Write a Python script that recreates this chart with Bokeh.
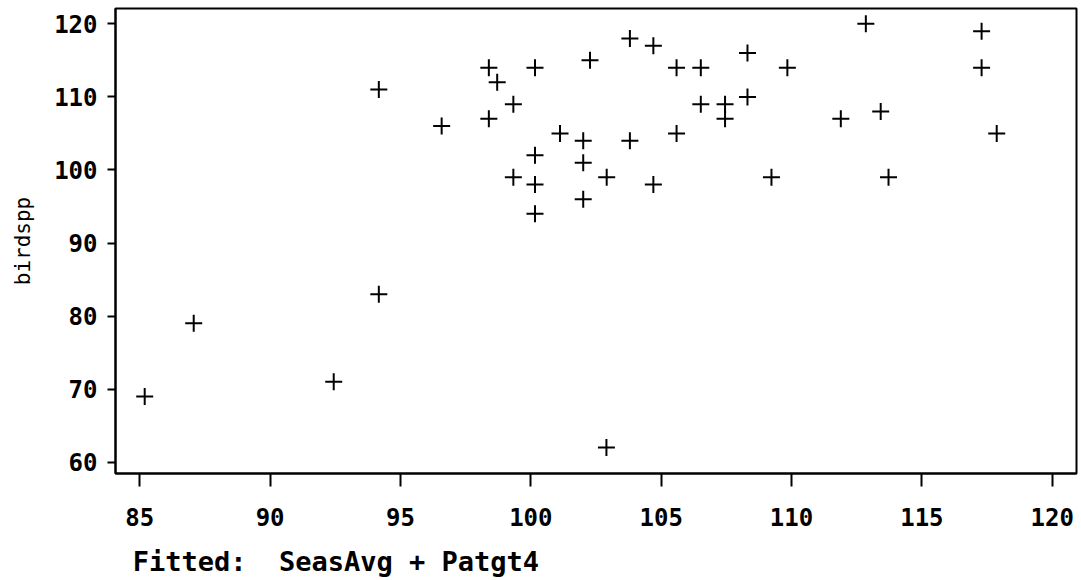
from bokeh.plotting import figure
from bokeh.models import ColumnDataSource, FixedTicker, Range1d
from bokeh.embed import file_html
from bokeh.resources import INLINE

# Fitted values (SeasAvg + Patgt4) against observed bird species counts
fitted = [85.19, 87.07, 92.44, 94.17, 94.17, 96.58, 98.39, 98.39, 98.71, 99.33,
          99.33, 100.16, 100.16, 100.16, 100.16, 101.12, 102.01, 102.01, 102.01, 102.27,
          102.91, 102.90, 103.80, 103.80, 104.70, 104.70, 105.59, 105.59, 106.52, 106.52,
          107.45, 107.45, 108.31, 108.31, 109.23, 109.84, 111.89, 112.85, 113.42, 113.72,
          117.29, 117.29, 117.87]
birdspp = [69, 79, 71, 111, 83, 106, 114, 107, 112, 109,
           99, 114, 102, 98, 94, 105, 104, 101, 96, 115,
           99, 62, 118, 104, 117, 98, 114, 105, 114, 109,
           109, 107, 116, 110, 99, 114, 107, 120, 108, 99,
           119, 114, 105]

x_ticks = [85, 90, 95, 100, 105, 110, 115, 120]
y_ticks = [60, 70, 80, 90, 100, 110, 120]

src = ColumnDataSource(data=dict(x=fitted, y=birdspp))

p = figure(width=1081, height=580, output_backend="svg", toolbar_location=None,
           x_range=Range1d(84.07, 120.93), y_range=Range1d(58.45, 122.1),
           min_border_left=115, min_border_right=5, min_border_top=8,
           min_border_bottom=107)

p.scatter("x", "y", source=src, marker="cross", size=17, line_color="black",
          line_width=2)

p.grid.visible = False
p.background_fill_color = "white"
p.border_fill_color = "white"
p.outline_line_color = "black"
p.outline_line_width = 2

tick_font = "DejaVu Sans Mono"

xa = p.xaxis[0]
xa.ticker = FixedTicker(ticks=x_ticks)
xa.axis_line_color = "black"
xa.axis_line_width = 2
xa.major_tick_line_color = "black"
xa.major_tick_line_width = 2
xa.major_tick_out = 13
xa.major_tick_in = 0
xa.minor_tick_line_color = None
xa.major_label_text_font = tick_font
xa.major_label_text_font_style = "bold"
xa.major_label_text_font_size = "24px"
xa.major_label_text_color = "black"
xa.major_label_standoff = 21
# model caption as the x-axis label; trailing non-breaking spaces push the
# centred monospace text to the left side of the frame
xa.axis_label = "Fitted:\u00a0 SeasAvg + Patgt4" + "\u00a0" * 32
xa.axis_label_text_font = tick_font
xa.axis_label_text_font_style = "bold"
xa.axis_label_text_font_size = "27px"
xa.axis_label_text_color = "black"
xa.axis_label_standoff = 17

ya = p.yaxis[0]
ya.ticker = FixedTicker(ticks=y_ticks)
ya.axis_line_color = "black"
ya.axis_line_width = 2
ya.major_tick_line_color = "black"
ya.major_tick_line_width = 2
ya.major_tick_out = 8
ya.major_tick_in = 0
ya.minor_tick_line_color = None
ya.major_label_text_font = tick_font
ya.major_label_text_font_style = "bold"
ya.major_label_text_font_size = "24px"
ya.major_label_text_color = "black"
ya.major_label_standoff = 10
ya.axis_label = "birdspp"
ya.axis_label_text_font = tick_font
ya.axis_label_text_font_style = "normal"
ya.axis_label_text_font_size = "21px"
ya.axis_label_text_color = "black"
ya.axis_label_standoff = 16

open("out.html", "w").write(file_html(p, INLINE))
